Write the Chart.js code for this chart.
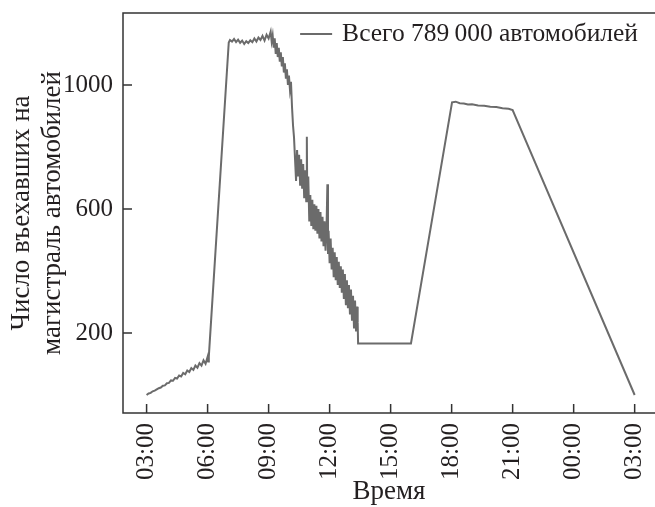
<!DOCTYPE html>
<html>
<head>
<meta charset="utf-8">
<script src="https://cdn.jsdelivr.net/npm/chart.js@4"></script>
<style>
  body { margin: 0; background: #fff; }
  #wrap { width: 655px; height: 507px; }
</style>
</head>
<body>
<div id="wrap"><canvas id="myChart"></canvas></div>
<script>
// data: hours since midnight of the first day, vehicles entered
const hours = [
  3.0, 3.1, 3.2, 3.3, 3.4, 3.5, 3.6, 3.7, 3.8, 3.9,
  4.0, 4.1, 4.2, 4.3, 4.4, 4.5, 4.6, 4.7, 4.8, 4.9,
  5.0, 5.1, 5.2, 5.3, 5.4, 5.5, 5.6, 5.7, 5.8, 5.9,
  6.0, 6.03, 6.06,
  7.04, 7.1, 7.2, 7.3, 7.4, 7.5, 7.6, 7.7, 7.8, 7.9,
  8.0, 8.1, 8.2, 8.3, 8.4, 8.5, 8.6, 8.7, 8.8, 8.9,
  9.0, 9.1, 9.15, 9.2, 9.25, 9.3, 9.35, 9.4, 9.45, 9.5,
  9.55, 9.6, 9.65, 9.7, 9.75, 9.8, 9.85, 9.9, 9.95, 10.0,
  10.05, 10.1, 10.15, 10.2, 10.25, 10.3, 10.35, 10.4, 10.45, 10.5,
  10.55, 10.6, 10.65, 10.7, 10.75, 10.8, 10.85, 10.88, 10.9, 10.95,
  11.0, 11.05, 11.1, 11.15, 11.2, 11.25, 11.3, 11.35, 11.4, 11.45,
  11.5, 11.55, 11.6, 11.65, 11.7, 11.75, 11.8, 11.85, 11.89, 11.92,
  11.95, 12.0, 12.05, 12.1, 12.15, 12.2, 12.25, 12.3, 12.35, 12.4,
  12.45, 12.5, 12.55, 12.6, 12.65, 12.7, 12.75, 12.8, 12.85, 12.9,
  12.95, 13.0, 13.05, 13.1, 13.15, 13.2, 13.25, 13.3, 13.35, 13.38,
  13.4, 16.0,
  18.02, 18.2, 18.4, 18.6, 18.8, 19.0, 19.3, 19.6, 19.9, 20.2,
  20.5, 20.8, 21.0, 27.0
];
const vehicles = [
  0, 5, 7, 12, 14, 18, 22, 24, 30, 31,
  38, 39, 47, 46, 55, 53, 63, 60, 71, 67,
  79, 74, 87, 81, 95, 88, 103, 95, 112, 101,
  123, 108, 124,
  1137, 1145, 1140, 1148, 1138, 1146, 1136, 1143, 1132, 1141,
  1135, 1144, 1138, 1150, 1140, 1153, 1145, 1158, 1143, 1162,
  1150, 1172, 1140, 1160, 1120, 1150, 1100, 1135, 1090, 1120,
  1075, 1105, 1060, 1090, 1040, 1070, 1020, 1050, 1000, 1030,
  985, 1010, 930, 870, 830, 760, 690, 790, 705, 775,
  675, 760, 665, 745, 635, 725, 625, 833, 640, 705,
  560, 645, 545, 630, 535, 615, 530, 610, 520, 600,
  505, 590, 495, 575, 480, 560, 465, 545, 680, 455,
  530, 425, 505, 405, 475, 380, 460, 370, 445, 355,
  430, 345, 415, 330, 405, 310, 390, 290, 370, 280,
  355, 260, 340, 240, 320, 215, 305, 205, 285, 235,
  166, 166,
  944, 946, 941, 940, 937, 938, 934, 933, 930, 929,
  925, 923, 919, 0
];
const xTicks = [3, 6, 9, 12, 15, 18, 21, 24, 27];
const yTicks = [200, 600, 1000];
const seriesLabel = 'Всего 789\u2009000 автомобилей';

const ink = '#231f20';
const lineGray = '#6b6b6b';
const serif = 'Liberation Serif';

Chart.defaults.font.family = serif;
Chart.defaults.color = ink;

// axis lines (left, top, bottom), inward tick marks and the legend line
const frame = {
  id: 'frame',
  afterDraw(chart) {
    const {ctx, chartArea: a, scales} = chart;
    ctx.save();
    ctx.strokeStyle = '#333';
    ctx.lineWidth = 1.5;
    ctx.beginPath();
    ctx.moveTo(a.right, a.top);
    ctx.lineTo(a.left, a.top);
    ctx.lineTo(a.left, a.bottom);
    ctx.lineTo(a.right, a.bottom);
    xTicks.forEach(v => {
      const px = scales.x.getPixelForValue(v);
      ctx.moveTo(px, a.bottom);
      ctx.lineTo(px, a.bottom - 9);
    });
    yTicks.forEach(v => {
      const py = scales.y.getPixelForValue(v);
      ctx.moveTo(a.left, py);
      ctx.lineTo(a.left + 9, py);
    });
    ctx.stroke();

    // legend
    const ds = chart.data.datasets[0];
    ctx.font = '25.5px "' + serif + '"';
    ctx.fillStyle = ink;
    ctx.textAlign = 'right';
    ctx.textBaseline = 'middle';
    const tx = a.right - 17, ty = a.top + 21;
    ctx.fillText(ds.label, tx, ty);
    const start = tx - ctx.measureText(ds.label).width - 10;
    ctx.strokeStyle = ds.borderColor;
    ctx.lineWidth = ds.borderWidth;
    ctx.beginPath();
    ctx.moveTo(start - 32, ty);
    ctx.lineTo(start, ty);
    ctx.stroke();
    ctx.restore();
  }
};

const noPad = s => { s.paddingTop = 0; s.paddingBottom = 0; s.paddingLeft = 0; s.paddingRight = 0; };

const data = {
  datasets: [{
    label: seriesLabel,
    data: hours.map((h, i) => ({x: h, y: vehicles[i]})),
    borderColor: lineGray,
    backgroundColor: lineGray,
    borderWidth: 2,
    pointRadius: 0,
    tension: 0
  }]
};

const options = {
  responsive: true,
  maintainAspectRatio: false,
  animation: false,
  layout: { padding: { top: 13, right: 0, bottom: 0, left: 0 } },
  plugins: {
    legend: { display: false },
    tooltip: { enabled: false }
  },
  scales: {
    x: {
      type: 'linear',
      min: 1.84,
      max: 28,
      afterBuildTicks: s => { s.ticks = xTicks.map(v => ({value: v})); },
      afterFit: s => { s.height = 94; noPad(s); },
      grid: { display: false, drawTicks: false },
      border: { display: false },
      ticks: {
        minRotation: 90,
        maxRotation: 90,
        padding: 10,
        font: { size: 25 },
        callback: v => String(v % 24).padStart(2, '0') + ':00'
      },
      title: {
        display: true,
        text: 'Время',
        font: { size: 27, lineHeight: 1 },
        padding: { top: 0, bottom: 2 }
      }
    },
    y: {
      min: -58,
      max: 1232,
      afterBuildTicks: s => { s.ticks = yTicks.map(v => ({value: v})); },
      afterFit: s => { s.width = 123; noPad(s); },
      grid: { display: false, drawTicks: false },
      border: { display: false },
      ticks: { padding: 10, font: { size: 25 }, callback: v => String(v) },
      title: {
        display: true,
        text: ['Число въехавших на', 'магистраль автомобилей'],
        font: { size: 27, lineHeight: 1.15 },
        padding: { top: 6, bottom: 0 }
      }
    }
  }
};

const myChart = new Chart(document.getElementById('myChart'), {
  type: 'line',
  data,
  options,
  plugins: [frame]
});
</script>
</body>
</html>
